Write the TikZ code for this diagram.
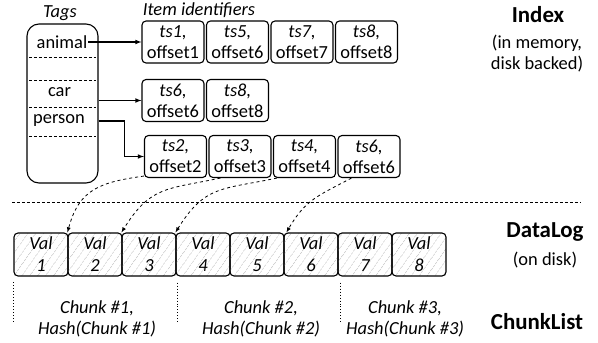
\documentclass[tikz,border=0pt]{standalone}
\usepackage{fontspec}
\setmainfont{Carlito}
\usetikzlibrary{arrows,patterns.meta}

\begin{document}
\begin{tikzpicture}[
  idbox/.style={draw, rounded corners=4bp, line width=1.1bp, minimum width=62bp, minimum height=42bp, inner sep=0pt, align=center, font=\fontsize{18.5}{21}\selectfont},
  valbox/.style={draw, rounded corners=4bp, line width=1.1bp, minimum width=54bp, minimum height=43bp, inner sep=0pt, align=center, pattern={Lines[angle=55,distance=6bp,line width=0.4bp]}, pattern color=black!30, font=\itshape\fontsize{18.5}{22}\selectfont},
  txt/.style={align=center, inner sep=1bp, font=\fontsize{18.5}{21}\selectfont},
  ittxt/.style={align=center, inner sep=1bp, font=\itshape\fontsize{18.5}{21}\selectfont},
  head/.style={inner sep=1bp, font=\bfseries\fontsize{23}{26}\selectfont},
  arr/.style={-latex, line width=1.1bp},
  link/.style={-latex, dashed, line width=0.8bp},
  sep/.style={densely dashed, line width=1bp},
  cut/.style={dotted, line width=1bp}
]
\useasboundingbox (0bp,0bp) rectangle (598bp,-343bp);

\node (Tags) at (62.5bp,-103.5bp)[draw, rounded corners=12bp, line width=1.1bp, minimum width=71bp, minimum height=159bp] {};
\node (TagsTitle) at (60bp,-13bp)[ittxt] {Tags};
\node (animal) at (62bp,-42bp)[txt] {animal};
\node (car) at (59.5bp,-92bp)[txt] {car};
\node (person) at (59bp,-121bp)[txt] {person};
\draw[sep] (29bp,-57bp) -- (96bp,-57bp);
\draw[sep] (29bp,-80bp) -- (96bp,-80bp);
\draw[sep] (29bp,-107bp) -- (96bp,-107bp);
\draw[sep] (29bp,-136bp) -- (96bp,-136bp);

\node (ItemTitle) at (199bp,-10bp)[ittxt] {Item identifiers};

\node (A1) at (173bp,-42bp)[idbox] {\textit{ts1,}\\offset1};
\node (A2) at (237.5bp,-42bp)[idbox] {\textit{ts5,}\\offset6};
\node (A3) at (302bp,-42bp)[idbox] {\textit{ts7,}\\offset7};
\node (A4) at (366.5bp,-42bp)[idbox] {\textit{ts8,}\\offset8};

\node (C1) at (173bp,-100.5bp)[idbox] {\textit{ts6,}\\offset6};
\node (C2) at (237.5bp,-100.5bp)[idbox] {\textit{ts8,}\\offset8};

\node (P1) at (175.5bp,-156.5bp)[idbox] {\textit{ts2,}\\offset2};
\node (P2) at (240bp,-156.5bp)[idbox] {\textit{ts3,}\\offset3};
\node (P3) at (304.5bp,-156.5bp)[idbox] {\textit{ts4,}\\offset4};
\node (P4) at (369bp,-156.5bp)[idbox] {\textit{ts6,}\\offset6};

\draw[arr] (animal.east) -- (A1.west);
\draw[arr] (Tags.east |- C1.west) -- (C1.west);
\draw[arr] (Tags.east |- person) -- ++(26bp,0) |- (P1.west);

\node (Index) at (538bp,-15bp)[head] {Index};
\node (IndexNote) at (537bp,-54bp)[txt] {(in memory,\\disk backed)};

\draw[sep] (12bp,-202bp) -- (580bp,-202bp);

\node (V1) at (41bp,-254.5bp)[valbox] {Val\\1};
\node (V2) at (95bp,-254.5bp)[valbox] {Val\\2};
\node (V3) at (149bp,-254.5bp)[valbox] {Val\\3};
\node (V4) at (203bp,-254.5bp)[valbox] {Val\\4};
\node (V5) at (257bp,-254.5bp)[valbox] {Val\\5};
\node (V6) at (311bp,-254.5bp)[valbox] {Val\\6};
\node (V7) at (365bp,-254.5bp)[valbox] {Val\\7};
\node (V8) at (419bp,-254.5bp)[valbox] {Val\\8};

\draw[link] ([yshift=2bp]P1.south west) to[out=188,in=75,looseness=1.2] (V2.north west);
\draw[link] ([xshift=12bp]P2.south west) to[out=192,in=58,looseness=1.25] (V3.north west);
\draw[link] ([xshift=4bp]P3.south west) to[out=192,in=58,looseness=1.25] (V4.north west);
\draw[link] ([xshift=14bp]P4.south west) to[out=208,in=60,looseness=1.15] ([xshift=3bp]V6.north west);

\node (DataLog) at (545bp,-232bp)[head] {DataLog};
\node (DataLogNote) at (545bp,-260bp)[txt] {(on disk)};

\draw[cut] ([yshift=-6bp]V1.south west) -- ++(0,-40bp);
\draw[cut] ([yshift=-6bp,xshift=2bp]V4.south west) -- ++(0,-40bp);
\draw[cut] ([yshift=-6bp,xshift=3bp]V7.south west) -- ++(0,-40bp);

\node (Chunk1) at (97bp,-319bp)[ittxt] {Chunk \#1,\\Hash(Chunk \#1)};
\node (Chunk2) at (261bp,-319bp)[ittxt] {Chunk \#2,\\Hash(Chunk \#2)};
\node (Chunk3) at (405bp,-319bp)[ittxt] {Chunk \#3,\\Hash(Chunk \#3)};

\node (ChunkList) at (537bp,-322bp)[head] {ChunkList};
\end{tikzpicture}
\end{document}
